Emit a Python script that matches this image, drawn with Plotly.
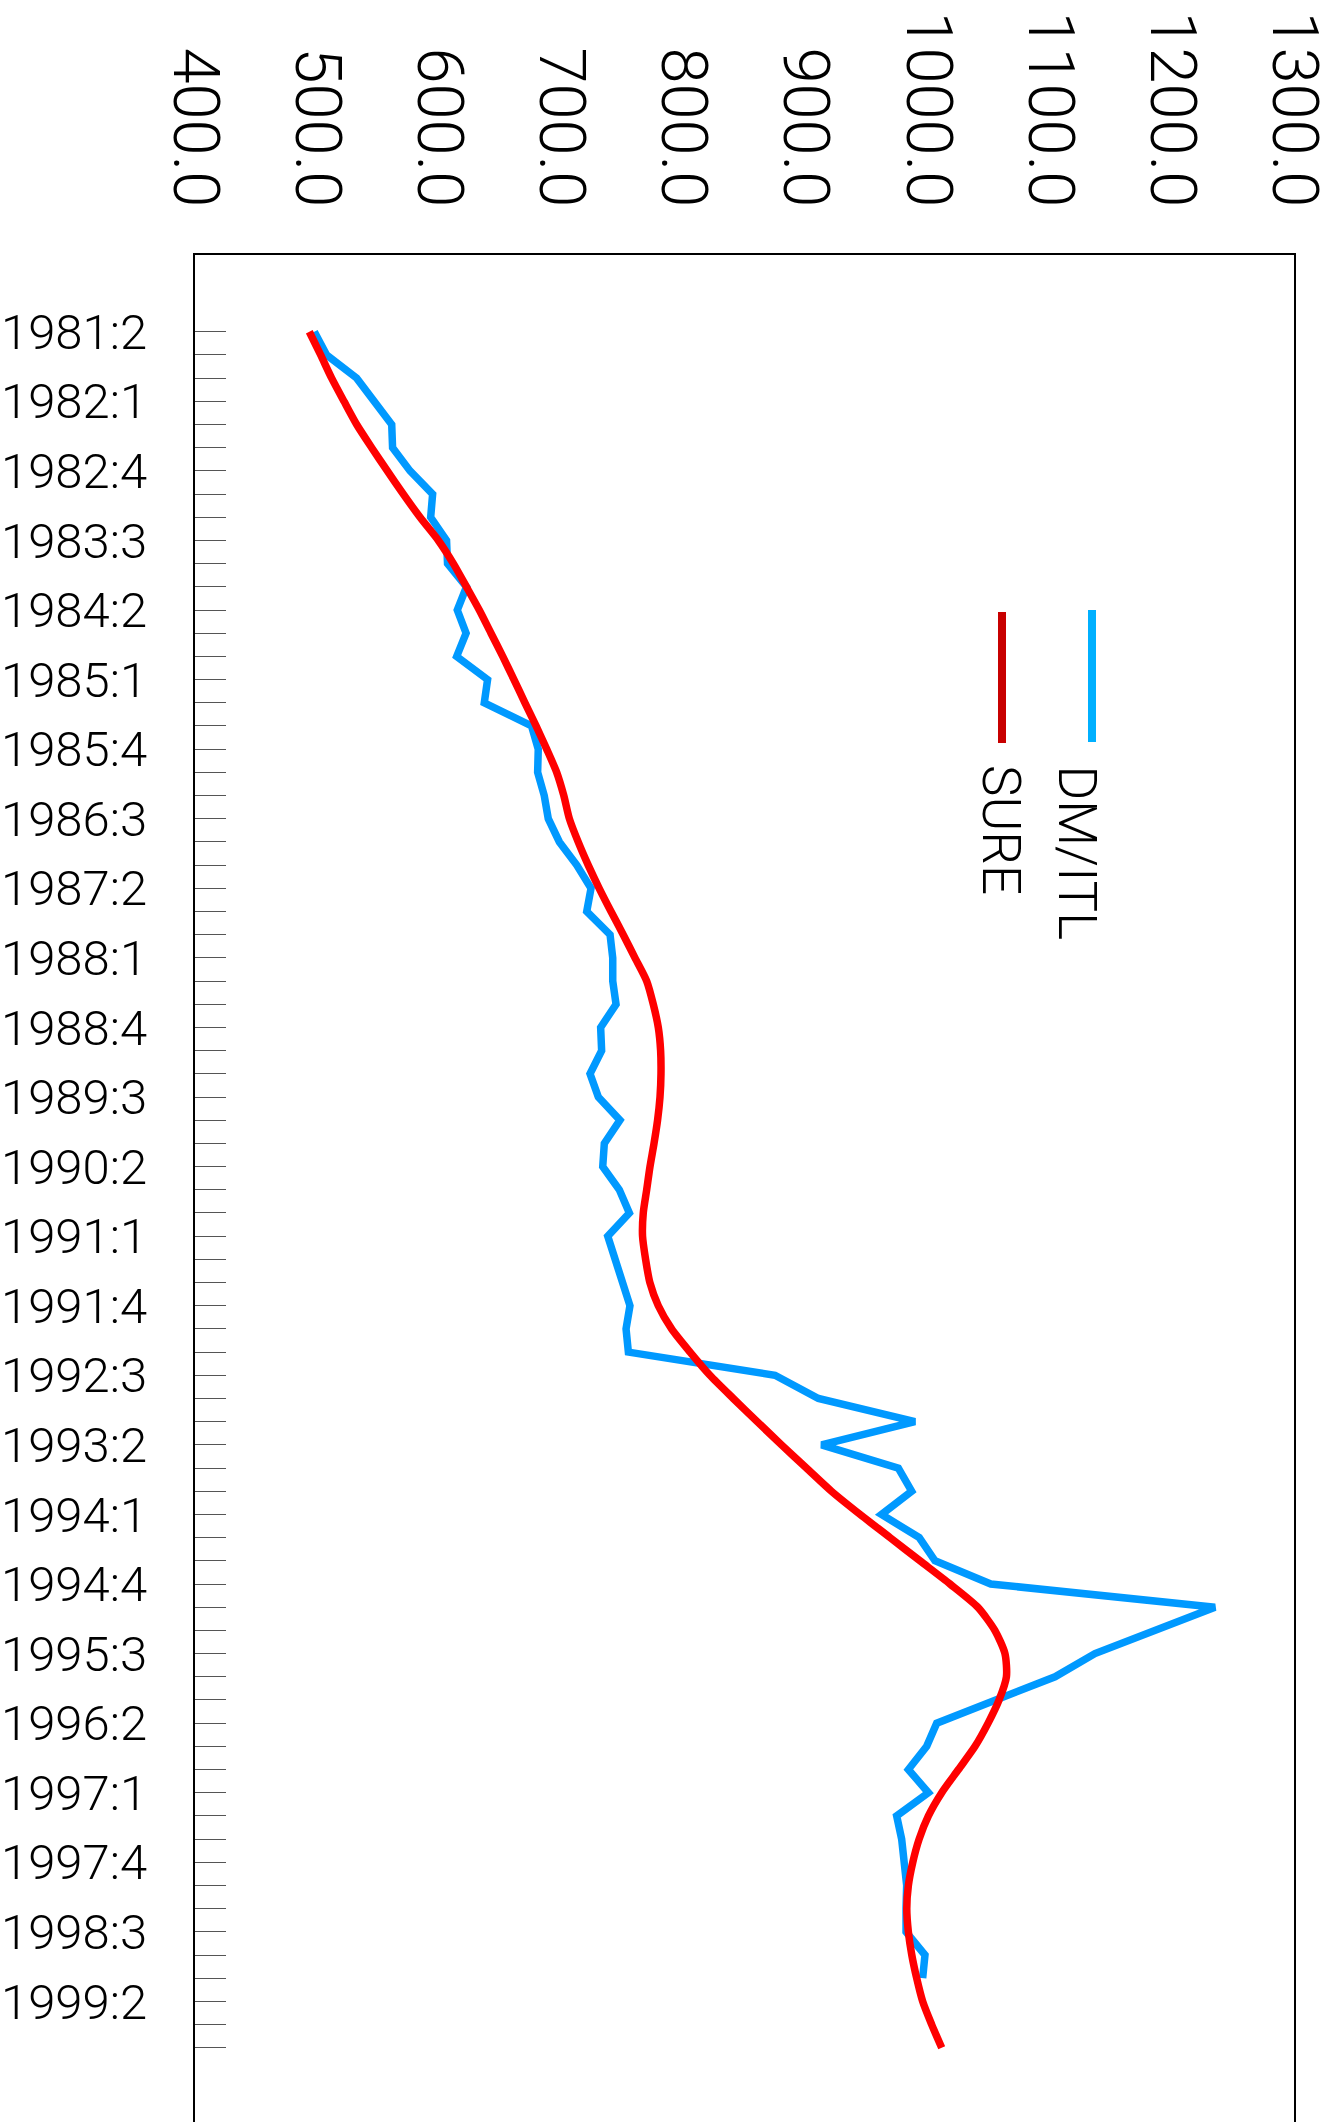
import plotly.graph_objects as go

# Quarterly categories 1981:2 .. 1999:4
quarters = [f"{y}:{q}" for y in range(1981, 2000) for q in range(1, 5)][1:]

dm_itl = [497.7, 507.8, 532.4, 547.4, 561.1, 561.8, 576.1, 594.6, 593.0, 606.0,
          606.8, 622.3, 614.8, 622.0, 614.3, 639.6, 636.9, 675.6, 681.1, 680.6,
          686.0, 689.3, 698.4, 712.6, 724.3, 720.8, 739.9, 742.1, 742.1, 744.8,
          732.2, 733.0, 723.5, 730.3, 748.0, 735.2, 733.9, 747.5, 755.7, 738.0,
          744.0, 749.4, 756.2, 753.0, 754.9, 875.0, 910.5, 989.6, 913.1, 976.0,
          986.9, 962.2, 993.1, 1006.0, 1051.7, 1235.3, 1186.0, 1137.0, 1104.3, 1056.5,
          1007.4, 999.2, 984.2, 1000.6, 974.6, 978.7, 981.4, 982.8, 982.3, 982.3,
          997.8, 995.9, None, None, None]

sure = [493.6, 502.9, 511.9, 522.0, 532.4, 544.7, 557.5, 570.6, 584.3, 599.3,
        611.6, 622.3, 632.8, 642.4, 652.0, 661.2, 670.2, 679.3, 688.0, 696.2,
        702.0, 706.6, 713.8, 722.0, 731.0, 740.7, 750.7, 760.3, 769.9, 775.3,
        779.4, 781.3, 781.6, 780.8, 778.8, 775.9, 772.6, 769.9, 767.1, 766.5,
        769.0, 772.5, 779.4, 790.3, 805.4, 821.7, 840.8, 860.4, 880.3, 900.7,
        921.2, 944.6, 969.2, 993.7, 1018.3, 1041.0, 1055.0, 1063.3, 1064.5, 1058.5,
        1049.5, 1038.8, 1025.2, 1011.5, 1000.6, 993.0, 987.8, 984.2, 982.9, 984.2,
        987.0, 991.0, 995.9, 1003.3, 1011.5]

xtick_vals = [400, 500, 600, 700, 800, 900, 1000, 1100, 1200, 1300]
ytick_text = [q if i % 3 == 0 else "" for i, q in enumerate(quarters)]

series_names = ["DM/ITL", "SURE"]
line_colors = ["#0099FF", "#FF0000"]
legend_colors = ["#00B0FF", "#C80000"]

FONT = "Roboto"

fig = go.Figure()
fig.add_trace(go.Scatter(x=dm_itl, y=quarters, mode="lines", name=series_names[0],
                         line=dict(color=line_colors[0], width=7.5), showlegend=False))
fig.add_trace(go.Scatter(x=sure, y=quarters, mode="lines", name=series_names[1],
                         line=dict(color=line_colors[1], width=7.5, shape="spline",
                                   smoothing=0.7), showlegend=False))

# Manual rotated legend
L, R, T, H = 195, 1294, 255, 2122
def px(x):
    return (x - L) / (R - L)
def py(y):
    return 1 - (y - T) / (H - T)

leg = [(1092, 610, 742, 1076), (1002, 612, 743, 1001)]
for (lx, y0, y1, tx), c, name in zip(leg, legend_colors, series_names):
    fig.add_shape(type="line", xref="paper", yref="paper",
                  x0=px(lx), x1=px(lx), y0=py(y0), y1=py(y1),
                  line=dict(color=c, width=8))
    fig.add_annotation(xref="paper", yref="paper", x=px(tx), y=py(763),
                       xanchor="center", yanchor="top", text=name, textangle=90,
                       showarrow=False,
                       font=dict(family=FONT, size=53, color="black", weight=300))

fig.update_layout(
    width=1330, height=2122,
    margin=dict(l=L, r=1330 - R, t=T, b=0, autoexpand=False),
    paper_bgcolor="white", plot_bgcolor="white",
    font=dict(family=FONT, color="black"),
    xaxis=dict(side="top", range=[400, 1300], tickmode="array", tickvals=xtick_vals,
               tickformat=".1f", tickangle=90, showline=True, linecolor="black",
               linewidth=2, ticks="", showgrid=False, zeroline=False, automargin=False,
               ticklabeloverflow="allow",
               tickfont=dict(family=FONT, size=65, color="black", weight=300),
               ticklabelstandoff=23),
    yaxis=dict(type="category", categoryorder="array", categoryarray=quarters,
               range=[77.2, -3.31], tickmode="array", tickvals=quarters, ticktext=ytick_text,
               ticks="inside", ticklen=31, tickwidth=1.4, tickcolor="#555",
               showline=True, mirror=True, linecolor="black", linewidth=2,
               showgrid=False, zeroline=False, automargin=False,
               tickfont=dict(family=FONT, size=49, color="black", weight=300),
               ticklabelstandoff=36),
)

fig.write_html("out.html", config={"displayModeBar": False},
               post_script="document.body.style.margin='0';")
